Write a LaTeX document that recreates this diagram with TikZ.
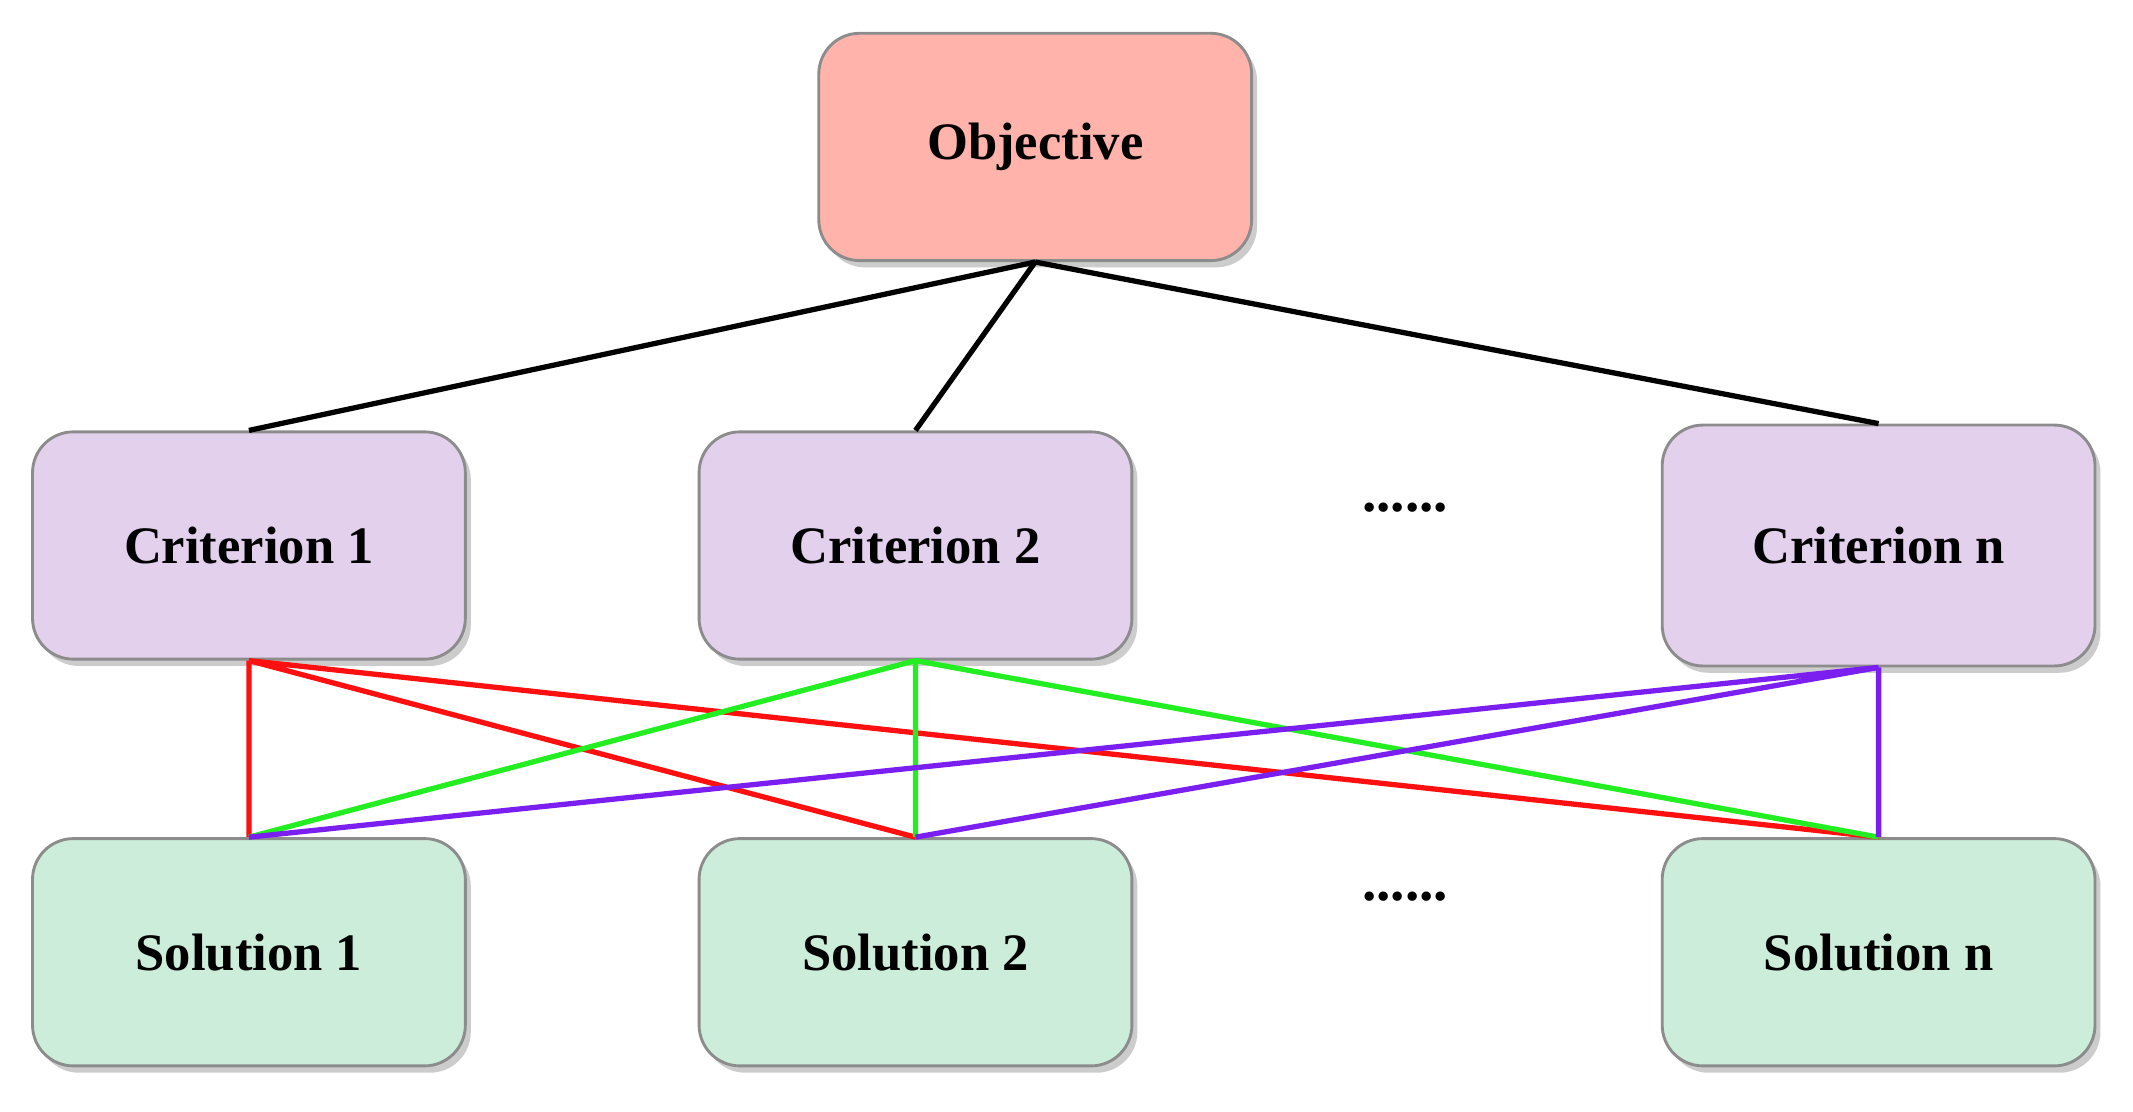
\documentclass[tikz,border=0pt]{standalone}
\usepackage{fontspec}
\setmainfont{Liberation Serif}
\usetikzlibrary{shadows}
\definecolor{objfill}{HTML}{FFB3AA}
\definecolor{critfill}{HTML}{E2D0EC}
\definecolor{solfill}{HTML}{CDEDDB}
\definecolor{rline}{HTML}{FF1010}
\definecolor{gline}{HTML}{22EE22}
\definecolor{pline}{HTML}{7A1FF0}
\begin{document}
\begin{tikzpicture}[x=0.01cm,y=-0.01cm,
  box/.style={draw=black!45,line width=0.6pt,rounded corners=0.3cm,minimum width=3.18cm,minimum height=1.67cm,
    font=\fontsize{11}{13}\selectfont\bfseries,drop shadow={shadow xshift=0.04cm,shadow yshift=-0.05cm,fill=black!40}},
  obj/.style={box,fill=objfill},
  crit/.style={box,fill=critfill},
  sol/.style={box,fill=solfill},
  conn/.style={line width=1.1pt},
  dots/.style={font=\fontsize{12}{14}\selectfont\bfseries}]
\useasboundingbox (0,0) rectangle (1568,817);
\node[obj] (obj) at (761,108) {Objective};
\node[crit] (c1) at (183,401) {Criterion 1};
\node[crit] (c2) at (673,401) {Criterion 2};
\node[crit,minimum height=1.77cm] (cn) at (1381,401) {Criterion n};
\node[sol] (s1) at (183,700) {Solution 1};
\node[sol] (s2) at (673,700) {Solution 2};
\node[sol] (sn) at (1381,700) {Solution n};
\node[dots] (d1) at (1033,373) {......};
\node[dots] (d2) at (1033,659) {......};
\draw[conn,black] (obj.south) -- (c1.north) (obj.south) -- (c2.north) (obj.south) -- (cn.north);
\draw[conn,rline] (c1.south) -- (s1.north) (c1.south) -- (s2.north) (c1.south) -- (sn.north);
\draw[conn,gline] (c2.south) -- (s1.north) (c2.south) -- (s2.north) (c2.south) -- (sn.north);
\draw[conn,pline] (cn.south) -- (s1.north) (cn.south) -- (s2.north) (cn.south) -- (sn.north);
\end{tikzpicture}
\end{document}
